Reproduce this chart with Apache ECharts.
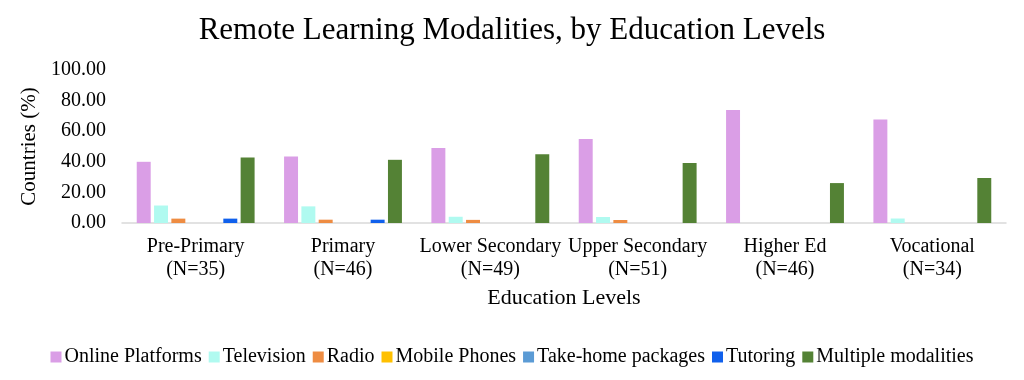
<!DOCTYPE html>
<html><head><meta charset="utf-8">
<script src="https://cdn.jsdelivr.net/npm/echarts@6/dist/echarts.min.js"></script>
<style>html,body{margin:0;padding:0;background:#fff}#c{width:1024px;height:380px}</style>
</head><body><div id="c"></div>
<script>
const categories = ['Pre-Primary\n(N=35)','Primary\n(N=46)','Lower Secondary\n(N=49)','Upper Secondary\n(N=51)','Higher Ed\n(N=46)','Vocational\n(N=34)'];
const seriesNames = ['Online Platforms','Television','Radio','Mobile Phones','Take-home packages','Tutoring','Multiple modalities'];
const onlinePlatforms = [40.00, 43.48, 48.98, 54.90, 73.91, 67.65];
const television = [11.43, 10.87, 4.08, 3.92, 0, 2.94];
const radio = [2.86, 2.17, 2.04, 1.96, 0, 0];
const mobilePhones = [0, 0, 0, 0, 0, 0];
const takeHome = [0, 0, 0, 0, 0, 0];
const tutoring = [2.86, 2.17, 0, 0, 0, 0];
const multiple = [42.86, 41.30, 44.90, 39.22, 26.09, 29.41];
const yTicks = [0, 20, 40, 60, 80, 100];
const colors = ['#DA9EE6','#B0FAF0','#EE8C42','#FFC000','#5B9BD5','#1060EC','#548235'];
const values = [onlinePlatforms, television, radio, mobilePhones, takeHome, tutoring, multiple];
const font = '"Liberation Serif", "Times New Roman", serif';
const chart = echarts.init(document.getElementById('c'));
chart.setOption({
  animation: false,
  color: colors,
  title: { text: 'Remote Learning Modalities, by Education Levels', left: 'center', top: 10,
    textStyle: { fontFamily: font, fontSize: 31, fontWeight: 'normal', color: '#000' } },
  grid: { left: 122, right: 18, top: 70, bottom: 157 },
  legend: { bottom: 8, left: 'center', itemWidth: 11, itemHeight: 11, itemGap: 7,
    icon: 'rect', textStyle: { fontFamily: font, fontSize: 20, color: '#000', padding: [0,0,0,-2] },
    data: seriesNames },
  xAxis: { type: 'category', data: categories,
    name: 'Education Levels', nameLocation: 'middle', nameGap: 64,
    nameTextStyle: { fontFamily: font, fontSize: 22, color: '#000' },
    axisLine: { lineStyle: { color: '#d9d9d9', width: 1.5 } }, axisTick: { show: false },
    axisLabel: { fontFamily: font, fontSize: 20, color: '#000', margin: 12, lineHeight: 23, interval: 0 } },
  yAxis: { type: 'value', min: 0, max: 100, interval: 20,
    name: 'Countries (%)', nameLocation: 'middle', nameGap: 76, nameRotate: 90,
    nameTextStyle: { fontFamily: font, fontSize: 21, color: '#000' },
    splitLine: { show: false }, axisLine: { show: false }, axisTick: { show: false },
    axisLabel: { fontFamily: font, fontSize: 20, color: '#000', margin: 16,
      formatter: v => yTicks.includes(v) ? v.toFixed(2) : '' } },
  series: seriesNames.map((n, i) => ({
    name: n, type: 'bar', data: values[i], barGap: '24%', barCategoryGap: '20%',
    itemStyle: { color: colors[i] }
  }))
});
</script></body></html>
